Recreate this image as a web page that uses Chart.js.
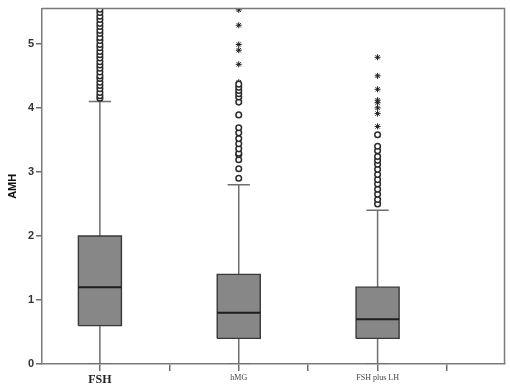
<!DOCTYPE html>
<html>
<head>
<meta charset="utf-8">
<script src="https://cdn.jsdelivr.net/npm/chart.js@4"></script>
<style>
  html, body { margin: 0; padding: 0; background: #fff; }
  #wrap { width: 510px; height: 392px; }
</style>
</head>
<body>
<div id="wrap"><canvas id="amhChart" width="510" height="392"></canvas></div>
<script>
// Categories and box statistics (AMH)
const groups = ['FSH', 'hMG', 'FSH plus LH'];
const whiskerLow = [0, 0, 0];
const q1Values = [0.6, 0.4, 0.4];
const medians = [1.2, 0.8, 0.7];
const q3Values = [2.0, 1.4, 1.2];
const whiskerHigh = [4.1, 2.8, 2.4];

// Outliers (circles = outliers, stars = extremes)
const fshCircles = [4.15, 4.19, 4.24, 4.30, 4.35, 4.40, 4.46, 4.50, 4.56, 4.62, 4.67, 4.72, 4.78,
    4.83, 4.88, 4.94, 4.99, 5.05, 5.10, 5.16, 5.21, 5.27, 5.32, 5.38, 5.43, 5.49, 5.54];
const fshStars = [];
const hmgCircles = [2.9, 3.05, 3.19, 3.27, 3.29, 3.36, 3.44, 3.52, 3.61, 3.69, 3.89, 4.09,
    4.17, 4.22, 4.27, 4.32, 4.37];
const hmgStars = [4.4, 4.68, 4.9, 4.99, 5.29, 5.53];
const lhCircles = [2.5, 2.57, 2.65, 2.73, 2.81, 2.88, 2.96, 3.04, 3.12, 3.18, 3.24, 3.33, 3.4, 3.58];
const lhStars = [3.71, 3.91, 4.0, 4.08, 4.12, 4.29, 4.5, 4.79];

const yTicks = [0, 1, 2, 3, 4, 5];

const circleSets = [fshCircles, hmgCircles, lhCircles];
const starSets = [fshStars, hmgStars, lhStars];

const boxHalf = 0.155;
const capHalf = 0.08;

// build datasets from the arrays above
const boxDatasets = groups.map((g, i) => ({
    label: g + ' box',
    data: [
        { x: i - boxHalf, y: q1Values[i] },
        { x: i + boxHalf, y: q1Values[i] },
        { x: i + boxHalf, y: q3Values[i] },
        { x: i - boxHalf, y: q3Values[i] },
        { x: i - boxHalf, y: q1Values[i] }
    ],
    showLine: true,
    fill: 'shape',
    backgroundColor: '#878787',
    borderColor: '#383838',
    borderWidth: 1.4,
    pointRadius: 0,
    order: 3
}));

const whiskerData = [];
groups.forEach((g, i) => {
    whiskerData.push({ x: i, y: q3Values[i] }, { x: i, y: whiskerHigh[i] }, { x: i, y: null });
    whiskerData.push({ x: i - capHalf, y: whiskerHigh[i] }, { x: i + capHalf, y: whiskerHigh[i] }, { x: i, y: null });
    whiskerData.push({ x: i, y: q1Values[i] }, { x: i, y: whiskerLow[i] }, { x: i, y: null });
    whiskerData.push({ x: i - capHalf, y: whiskerLow[i] }, { x: i + capHalf, y: whiskerLow[i] }, { x: i, y: null });
});

const medianData = [];
groups.forEach((g, i) => {
    medianData.push({ x: i - boxHalf, y: medians[i] }, { x: i + boxHalf, y: medians[i] }, { x: i, y: null });
});

const circleData = [];
circleSets.forEach((vals, i) => vals.forEach(v => circleData.push({ x: i, y: v })));
const starData = [];
starSets.forEach((vals, i) => vals.forEach(v => starData.push({ x: i, y: v })));

// top and right frame lines
const framePlugin = {
    id: 'frame',
    afterDraw(chart) {
        const { ctx, chartArea: a } = chart;
        ctx.save();
        ctx.strokeStyle = '#7a7a7a';
        ctx.lineWidth = 1.5;
        ctx.beginPath();
        ctx.moveTo(a.left, a.top);
        ctx.lineTo(a.right, a.top);
        ctx.lineTo(a.right, a.bottom);
        ctx.stroke();
        ctx.restore();
    }
};

const ctx = document.getElementById('amhChart').getContext('2d');
new Chart(ctx, {
    type: 'scatter',
    data: {
        datasets: [
            {
                label: 'whiskers',
                data: whiskerData,
                showLine: true,
                spanGaps: false,
                borderColor: '#6e6e6e',
                borderWidth: 1.5,
                pointRadius: 0,
                order: 4
            },
            ...boxDatasets,
            {
                label: 'median',
                data: medianData,
                showLine: true,
                spanGaps: false,
                borderColor: '#1e1e1e',
                borderWidth: 2,
                pointRadius: 0,
                order: 2
            },
            {
                label: 'outliers',
                data: circleData,
                pointStyle: 'circle',
                pointRadius: 2.8,
                borderWidth: 1.5,
                borderColor: '#2a2a2a',
                backgroundColor: '#ffffff',
                order: 1
            },
            {
                label: 'extremes',
                data: starData,
                pointStyle: 'star',
                pointRadius: 3,
                borderWidth: 1,
                borderColor: '#1a1a1a',
                backgroundColor: '#1a1a1a',
                order: 1
            }
        ]
    },
    options: {
        responsive: false,
        animation: false,
        events: [],
        layout: { padding: { top: 6, right: 5, left: 0, bottom: 0 } },
        plugins: {
            legend: { display: false },
            tooltip: { enabled: false }
        },
        scales: {
            x: {
                type: 'linear',
                min: -0.417,
                max: 2.914,
                afterBuildTicks: scale => {
                    scale.ticks = [0, 0.5, 1, 1.5, 2, 2.5].map(v => ({ value: v }));
                },
                afterFit: scale => { scale.height = 28; },
                ticks: {
                    autoSkip: false,
                    maxRotation: 0,
                    padding: 2,
                    color: ctx => ctx.tick && ctx.tick.value === 0 ? '#222' : '#444',
                    font: ctx => ctx.tick && ctx.tick.value === 0
                        ? { family: 'Liberation Serif', size: 12, weight: 'bold' }
                        : { family: 'Liberation Serif', size: 8 },
                    callback: v => Number.isInteger(v) ? groups[v] : ''
                },
                grid: {
                    drawOnChartArea: false,
                    drawTicks: true,
                    tickLength: 7,
                    color: '#6e6e6e',
                    lineWidth: 1.5
                },
                border: { color: '#7a7a7a', width: 1.5 }
            },
            y: {
                min: 0,
                max: 5.55,
                afterBuildTicks: scale => {
                    scale.ticks = yTicks.map(v => ({ value: v }));
                },
                afterFit: scale => { scale.width = 42; },
                ticks: {
                    padding: 2,
                    color: '#333',
                    font: { family: 'Liberation Sans', size: 11, weight: 'bold' }
                },
                grid: {
                    drawOnChartArea: false,
                    drawTicks: true,
                    tickLength: 6,
                    color: '#6e6e6e',
                    lineWidth: 1.5
                },
                border: { color: '#7a7a7a', width: 1.5 },
                title: {
                    display: true,
                    text: 'AMH',
                    color: '#111',
                    padding: { top: 6, bottom: 0 },
                    font: { family: 'Liberation Sans', size: 11, weight: 'bold' }
                }
            }
        }
    },
    plugins: [framePlugin]
});
</script>
</body>
</html>
